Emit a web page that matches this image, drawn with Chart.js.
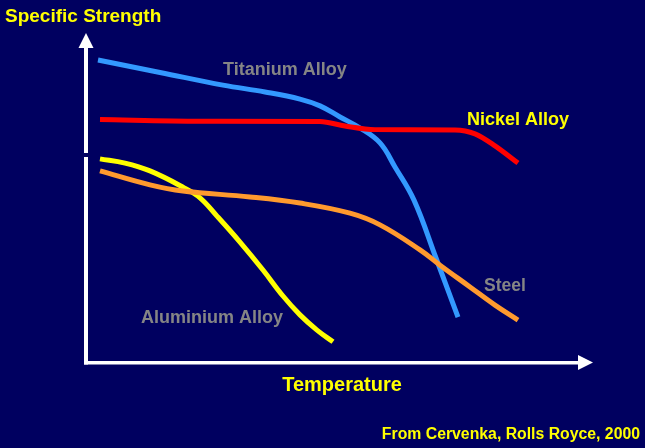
<!DOCTYPE html>
<html>
<head>
<meta charset="utf-8">
<script src="https://cdn.jsdelivr.net/npm/chart.js@4/dist/chart.umd.min.js"></script>
<style>
html,body{margin:0;padding:0;background:#000060;overflow:hidden;}
#wrap{width:645px;height:448px;position:relative;}
</style>
</head>
<body>
<div id="wrap"><canvas id="c" width="645" height="448"></canvas></div>
<script>
// Temperature (arbitrary units 0-100) vs Specific Strength (arbitrary units 0-100)
const titaniumX = [2.2, 14.6, 27.2, 35.6, 42.6, 46.6, 50.6, 54.6, 58.6, 61.6, 65.4, 69.8, 74.2];
const titaniumY = [92.9, 89.1, 85.2, 83.1, 80.9, 78.8, 75.4, 72.0, 67.4, 60.0, 49.8, 32.0, 13.8];
const nickelX = [2.6, 22.6, 46.6, 51.6, 57.6, 73.6, 77.6, 81.6, 86.2];
const nickelY = [74.6, 74.1, 74.0, 72.6, 71.5, 71.4, 70.2, 66.5, 61.2];
const aluminiumX = [2.6, 7.6, 12.6, 19.2, 22.6, 26.0, 30.6, 35.2, 39.2, 42.6, 46.0, 49.2];
const aluminiumY = [62.5, 61.2, 58.8, 53.8, 50.5, 44.9, 36.9, 28.3, 20.3, 14.5, 9.8, 6.2];
const steelX = [2.6, 12.6, 19.2, 32.6, 42.6, 52.6, 58.6, 66.6, 70.6, 76.6, 81.6, 86.2];
const steelY = [58.8, 54.5, 52.6, 50.8, 48.9, 45.8, 42.2, 34.5, 29.8, 23.1, 17.5, 12.9];

const seriesNames = ["Titanium Alloy", "Nickel Alloy", "Aluminium Alloy", "Steel"];
const axisTitleY = "Specific Strength";
const axisTitleX = "Temperature";
const sourceText = "From Cervenka, Rolls Royce, 2000";

function pts(xs, ys){ return xs.map((x,i)=>({x:x, y:ys[i]})); }

const BG = '#000060';
const FONT = '"Liberation Sans", Arial, sans-serif';

const decor = {
  id: 'decor',
  beforeDraw(chart){
    const ctx = chart.ctx;
    ctx.save();
    ctx.fillStyle = BG;
    ctx.fillRect(0,0,chart.width,chart.height);
    ctx.restore();
  },
  afterDatasetsDraw(chart){
    const ctx = chart.ctx;
    const ax = 86, ay = 362.5;
    ctx.save();
    ctx.fillStyle = '#ffffff';
    // vertical axis with small gap
    ctx.fillRect(ax-2, 46, 4, 107);
    ctx.fillRect(ax-2, 157, 4, ay-157+2);
    // up arrow
    ctx.beginPath();
    ctx.moveTo(ax, 33); ctx.lineTo(ax+7.5, 48); ctx.lineTo(ax-7.5, 48); ctx.closePath(); ctx.fill();
    // horizontal axis
    ctx.fillRect(ax-2, ay-1.5, 578-(ax-2), 3.5);
    ctx.beginPath();
    ctx.moveTo(593, ay); ctx.lineTo(578, ay-7.5); ctx.lineTo(578, ay+7.5); ctx.closePath(); ctx.fill();

    ctx.textBaseline = 'middle';
    // titles
    ctx.fillStyle = '#ffff00';
    ctx.font = 'bold 19px ' + FONT;
    ctx.textAlign = 'left';
    ctx.fillText(axisTitleY, 5, 17);
    ctx.font = 'bold 20px ' + FONT;
    ctx.textAlign = 'center';
    ctx.fillText(axisTitleX, 342, 385);
    ctx.font = 'bold 15.8px ' + FONT;
    ctx.textAlign = 'right';
    ctx.fillText(sourceText, 640, 435);

    // series labels
    ctx.font = 'bold 18px ' + FONT;
    ctx.fillStyle = '#858585';
    ctx.textAlign = 'left';
    ctx.fillText(seriesNames[0], 223, 70);
    ctx.fillText(seriesNames[2], 141, 318);
    ctx.font = 'bold 17.5px ' + FONT;
    ctx.fillText(seriesNames[3], 484, 286);
    ctx.fillStyle = '#ffff00';
    ctx.font = 'bold 18px ' + FONT;
    ctx.fillText(seriesNames[1], 467, 120);
    ctx.restore();
  }
};

const lineDs = (label, data, color, mono) => ({
  label, data, borderColor: color, backgroundColor: color,
  borderWidth: 5, pointRadius: 0, fill: false,
  cubicInterpolationMode: mono ? 'monotone' : 'default', tension: 0.4,
  borderCapStyle: 'butt', borderJoinStyle: 'round'
});

new Chart(document.getElementById('c'), {
  type: 'line',
  data: {
    datasets: [
      lineDs(seriesNames[3], pts(steelX, steelY), '#ff9a2e', false),
      lineDs(seriesNames[2], pts(aluminiumX, aluminiumY), '#ffff00', false),
      lineDs(seriesNames[1], pts(nickelX, nickelY), '#ff0000', true),
      lineDs(seriesNames[0], pts(titaniumX, titaniumY), '#3399ff', false)
    ]
  },
  options: {
    responsive: false,
    animation: false,
    layout: { padding: { left: 87, right: 58, top: 37, bottom: 86 } },
    plugins: { legend: { display: false }, tooltip: { enabled: false } },
    scales: {
      x: { type: 'linear', min: 0, max: 100, display: false },
      y: { type: 'linear', min: 0, max: 100, display: false }
    }
  },
  plugins: [decor]
});
</script>
</body>
</html>
